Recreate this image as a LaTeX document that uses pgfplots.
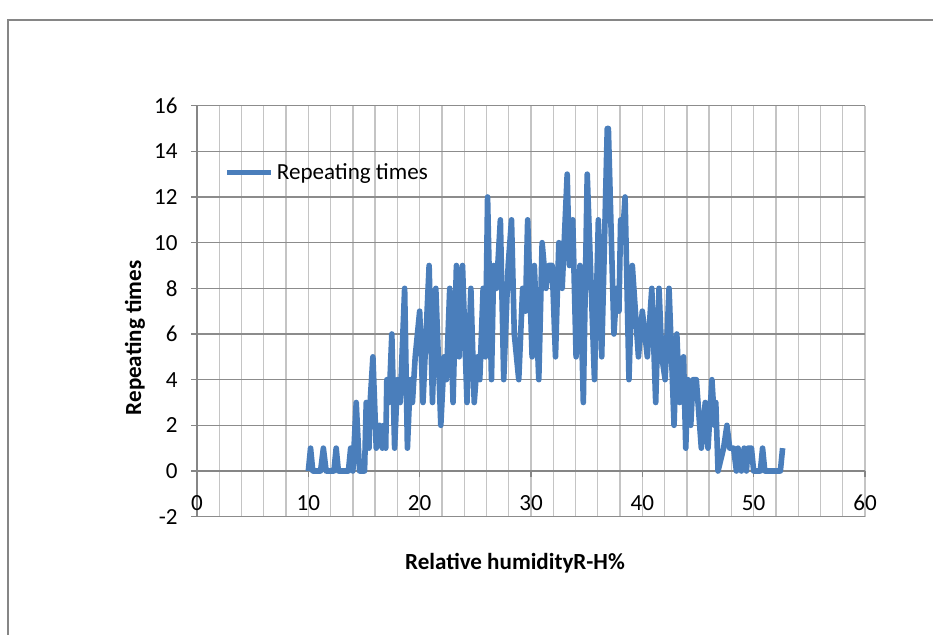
\documentclass[border=0pt]{standalone}
\usepackage{pgfplots}
\pgfplotsset{compat=1.18}
\usepackage{fontspec}
\setmainfont{Carlito}
\definecolor{excelblue}{HTML}{4A7EBB}
\definecolor{axgray}{HTML}{868686}
\definecolor{hgrid}{HTML}{8C8C8C}
\definecolor{vgrid}{HTML}{C4C4C4}
\begin{document}
\begin{tikzpicture}[x=0.75pt,y=0.75pt]
\useasboundingbox (0,0) rectangle (933,635);
\draw[axgray, line width=1.1pt] (8,0) -- (8,615) -- (940,615);
\begin{axis}[
  at={(147.75pt,123pt)}, anchor=origin, scale only axis,
  width=501pt, height=308.25pt,
  xmin=0, xmax=60, ymin=-2, ymax=16,
  axis x line*=middle, axis y line*=left,
  hide obscured x ticks=false, hide obscured y ticks=false,
  xtick={0,10,...,60}, minor xtick={2,4,...,58}, ytick={-2,0,...,16},
  xmajorgrids, xminorgrids, ymajorgrids,
  major x grid style={vgrid, line width=1pt},
  minor x grid style={vgrid, line width=1pt},
  major y grid style={hgrid, line width=1pt},
  tick align=outside, major tick length=4.5pt, minor tick length=0pt,
  tick style={axgray, line width=1pt},
  axis line style={axgray, line width=1pt},
  tick label style={font=\fontsize{17.3}{20}\selectfont},
  /pgf/number format/assume math mode=true,
  xticklabel style={anchor=base, yshift=-25pt},
  yticklabel style={anchor=east, xshift=-6.5pt},
  legend style={at={(rel axis cs:0.035,0.837)}, anchor=west, draw=none, fill=none,
    font=\fontsize{17.3}{20}\selectfont},
  legend cell align=left,
  legend image code/.code={\draw[#1] (0pt,0pt) -- (33pt,0pt);},
]
\addplot[excelblue, line width=4.2pt, line join=round, no marks] coordinates {
(10.0,0)(10.2,1)(10.4,0)(11.1,0)(11.35,1)(11.6,0)(12.3,0)(12.5,1)(12.7,0)(13.6,0)
(13.8,1)(14.0,0)(14.3,3)(14.6,0)(15.05,0)(15.2,3)(15.45,1)(15.55,3)(15.8,5)(16.1,1)
(16.4,2)(16.65,1)(16.8,2)(16.95,1)(17.05,4)(17.25,3)(17.5,6)(17.75,1)(18.0,4)(18.25,3)
(18.65,8)(18.9,1)(19.15,4)(19.35,3)(19.6,5)(20.0,7)(20.3,3)(20.85,9)(21.15,3)(21.45,8)
(21.9,2)(22.2,5)(22.4,4)(22.7,8)(23.0,3)(23.3,9)(23.55,5)(23.85,9)(24.25,3)(24.6,8)
(24.9,3)(25.2,5)(25.4,4)(25.7,8)(25.9,5)(26.1,12)(26.45,4)(26.65,9)(26.9,8)(27.25,11)
(27.55,4)(27.95,9)(28.25,11)(28.5,6)(28.9,4)(29.25,8)(29.5,7)(29.7,11)(30.1,5)(30.3,9)
(30.7,4)(31.0,10)(31.35,8)(31.6,9)(31.9,9)(32.2,5)(32.5,10)(32.8,8)(33.25,13)(33.45,9)
(33.75,11)(34.05,5)(34.4,9)(34.7,3)(35.05,13)(35.7,4)(36.05,11)(36.35,5)(36.85,15)(36.95,15)
(37.45,6)(37.7,8)(37.9,7)(38.05,11)(38.2,10)(38.45,12)(38.8,4)(39.1,9)(39.65,5)(40.0,7)
(40.45,5)(40.85,8)(41.2,3)(41.5,8)(41.75,5)(42.05,4)(42.4,8)(42.85,2)(43.1,6)(43.35,3)
(43.7,5)(43.9,1)(44.1,4)(44.35,2)(44.55,4)(44.85,4)(45.3,1)(45.65,3)(45.9,1)(46.25,4)
(46.5,2)(46.6,3)(46.8,0)(47.3,1)(47.6,2)(47.85,1)(48.2,1)(48.45,0)(48.6,1)(48.9,0)
(49.15,1)(49.35,0)(49.5,1)(49.8,1)(50.0,0)(50.6,0)(50.8,1)(51.0,0)(52.4,0)(52.6,1)
};
\addlegendentry{Repeating times}
\end{axis}
\node[font=\bfseries\fontsize{17.3}{20}\selectfont] at (515,72) {Relative humidityR-H\%};
\node[font=\bfseries\fontsize{17.3}{20}\selectfont, rotate=90] at (135,297) {Repeating times};
\end{tikzpicture}
\end{document}
